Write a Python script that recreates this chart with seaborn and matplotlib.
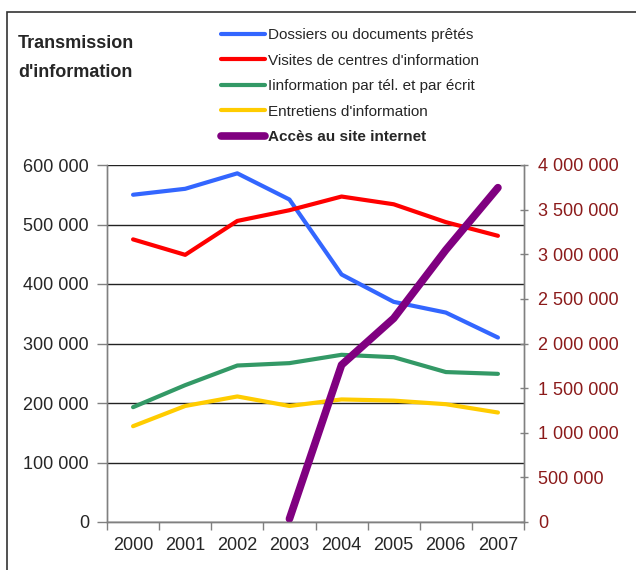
import numpy as np
import pandas as pd
import matplotlib
matplotlib.use("Agg")
import matplotlib.pyplot as plt
from matplotlib.patches import Rectangle
from matplotlib.ticker import FuncFormatter, FixedLocator
import seaborn as sns

# data
years = [2000, 2001, 2002, 2003, 2004, 2005, 2006, 2007]
dossiers = [550000, 560000, 586000, 542000, 416000, 370000, 352000, 310000]
visites = [475000, 449000, 506000, 524000, 547000, 534000, 504000, 481000]
tel_ecrit = [193000, 230000, 263000, 267000, 281000, 277000, 252000, 249000]
entretiens = [161000, 195000, 211000, 195000, 206000, 204000, 198000, 184000]
internet_years = [2003, 2004, 2005, 2006, 2007]
internet = [35000, 1760000, 2282000, 3048000, 3746000]

labels = ["Dossiers ou documents prêtés",
          "Visites de centres d'information",
          "Iinformation par tél. et par écrit",
          "Entretiens d'information"]
label_internet = "Accès au site internet"
colors = ["#3366FF", "#FF0000", "#339966", "#FFCC00"]
purple = "#800080"
dark_red = "#8B1A1A"

df = pd.DataFrame({
    "Année": years * 4,
    "Valeur": dossiers + visites + tel_ecrit + entretiens,
    "Série": sum([[l] * len(years) for l in labels], []),
})
df_web = pd.DataFrame({"Année": internet_years, "Valeur": internet})

sns.set_style("white")
plt.rcParams["font.family"] = ["Liberation Sans", "DejaVu Sans"]

fig = plt.figure(figsize=(6.36, 5.70), dpi=100)
ax = fig.add_axes([107 / 636, 1 - 522 / 570, 417 / 636, 357 / 570])

sns.lineplot(data=df, x="Année", y="Valeur", hue="Série", hue_order=labels,
             palette=colors, linewidth=3, ax=ax, legend=False)
for ln in ax.lines:
    ln.set_solid_capstyle("round")
    ln.set_solid_joinstyle("round")

ax2 = ax.twinx()
sns.lineplot(data=df_web, x="Année", y="Valeur", color=purple, linewidth=5.5,
             ax=ax2, legend=False)
for ln in ax2.lines:
    ln.set_solid_capstyle("round")
    ln.set_solid_joinstyle("round")

fmt = FuncFormatter(lambda v, p: f"{int(v):,}".replace(",", " "))

ax.set_xlim(1999.5, 2007.5)
ax.set_ylim(0, 600000)
ax.set_yticks(np.arange(0, 600001, 100000))
ax.yaxis.set_major_formatter(fmt)
ax.set_xticks(years)
ax.set_xticklabels([str(y) for y in years])
ax.xaxis.set_minor_locator(FixedLocator(np.arange(1999.5, 2008, 1)))
ax.tick_params(axis="x", which="major", length=0, pad=11, labelsize=13)
ax.tick_params(axis="x", which="minor", length=6, width=1, color="#808080",
               direction="out", bottom=True)
ax.tick_params(axis="y", length=7, width=1, color="#808080", direction="out",
               left=True, pad=6, labelsize=13)
ax.set_xlabel("")
ax.set_ylabel("")
ax.grid(axis="y", color="#222222", linewidth=1)
ax.set_axisbelow(True)

ax2.set_ylim(0, 4000000)
ax2.set_yticks(np.arange(0, 4000001, 500000))
ax2.yaxis.set_major_formatter(fmt)
ax2.tick_params(axis="y", length=6, width=1, color="#808080", direction="inout",
                right=True, pad=7, labelsize=13, labelcolor=dark_red)
ax2.set_ylabel("")
ax2.grid(False)

for a in (ax, ax2):
    for side, sp in a.spines.items():
        sp.set_color("#808080")
        sp.set_linewidth(1)
    a.spines["top"].set_visible(False)

# outer frame, cut at bottom and right like the reference
fig.add_artist(Rectangle((7 / 636, -0.2), 1.2, 1.2 - 12 / 570,
                         transform=fig.transFigure, fill=False,
                         edgecolor="#333333", linewidth=1.2))

fig.text(18 / 636, 1 - 47.5 / 570, "Transmission", fontsize=13,
         fontweight="bold", va="baseline", ha="left")
fig.text(18 / 636, 1 - 77 / 570, "d'information", fontsize=13,
         fontweight="bold", va="baseline", ha="left")

handles = list(ax.lines[:4]) + list(ax2.lines[:1])
leg = fig.legend(handles, labels + [label_internet], loc="upper left",
                 bbox_to_anchor=(221 / 636, 1 - 28 / 570), frameon=False,
                 fontsize=11, handlelength=2.9, handletextpad=0.15,
                 labelspacing=0.76, borderpad=0, borderaxespad=0)
leg.get_texts()[4].set_fontweight("bold")
for h in leg.legend_handles:
    h.set_solid_capstyle("round")

fig.savefig("out.png", dpi=100)
